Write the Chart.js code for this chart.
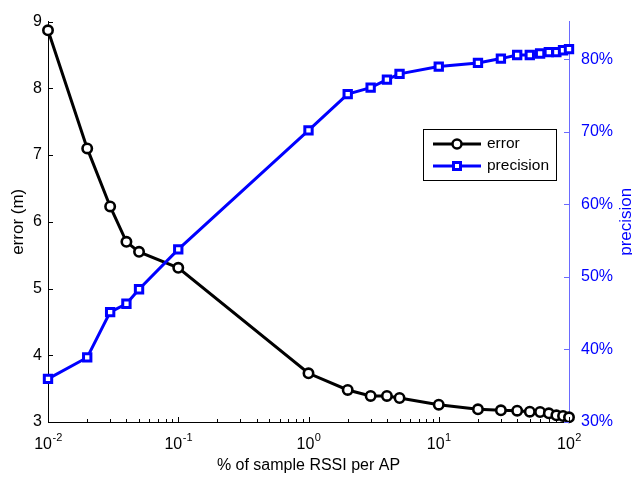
<!DOCTYPE html>
<html><head><meta charset="utf-8">
<script src="https://cdn.jsdelivr.net/npm/chart.js@4.4.1/dist/chart.umd.min.js"></script>
<style>html,body{margin:0;padding:0;background:#fff;}canvas{display:block;}</style>
</head><body>
<canvas id="c" width="632" height="482"></canvas>
<script>
// ---- data ----
const xValues = [0.01,0.02,0.03,0.04,0.05,0.1,1,2,3,4,5,10,20,30,40,50,60,70,80,90,100];
const errorValues = [8.87,7.10,6.23,5.70,5.55,5.31,3.73,3.48,3.39,3.39,3.36,3.26,3.19,3.175,3.17,3.155,3.15,3.13,3.10,3.09,3.07];
const precisionValues = [35.95,38.9,45.15,46.3,48.3,53.8,70.2,75.2,76.1,77.2,78.0,79.0,79.5,80.1,80.6,80.6,80.8,81.0,81.0,81.25,81.4];
const xMajorTicks = [0.01,0.1,1,10,100];
const xTickBase = '10';
const xTickExponents = ['-2','-1','0','1','2'];
const errorTicks = [3,4,5,6,7,8,9];
const precisionTicks = [30,40,50,60,70,80];
const seriesNames = ['error','precision'];
const xTitle = '% of sample RSSI per AP';
const yTitle = 'error (m)';
const y1Title = 'precision';

const BLUE = '#0000ff';
const AXBLUE = '#6a6aff';
const FONT = '"Liberation Sans", Arial, Helvetica, sans-serif';

const pts = (ys) => xValues.map((x,i)=>({x:x, y:ys[i]}));

const decorPlugin = {
  id:'decor',
  afterDraw(chart){
    const ctx = chart.ctx, a = chart.chartArea;
    const xs = chart.scales.x, ys = chart.scales.y, ys1 = chart.scales.y1;
    ctx.save();
    // inward ticks
    ctx.lineWidth = 1;
    ctx.strokeStyle = '#000';
    ctx.beginPath();
    errorTicks.forEach(v=>{ const p=Math.round(ys.getPixelForValue(v))+0.5; ctx.moveTo(a.left,p); ctx.lineTo(a.left+5,p); });
    xMajorTicks.forEach((v,i)=>{
      const p=Math.round(xs.getPixelForValue(v))+0.5; ctx.moveTo(p,a.bottom); ctx.lineTo(p,a.bottom-5);
      if(i<xMajorTicks.length-1){ for(let m=2;m<=9;m++){ const q=Math.round(xs.getPixelForValue(v*m))+0.5; ctx.moveTo(q,a.bottom); ctx.lineTo(q,a.bottom-3);} }
    });
    ctx.stroke();
    ctx.strokeStyle = AXBLUE;
    ctx.beginPath();
    precisionTicks.forEach(v=>{ const p=Math.round(ys1.getPixelForValue(v))+0.5; ctx.moveTo(a.right,p); ctx.lineTo(a.right-5,p); });
    ctx.stroke();
    // x tick labels with superscripts
    ctx.fillStyle = '#000';
    ctx.textBaseline = 'alphabetic';
    xMajorTicks.forEach((v,i)=>{
      const p = xs.getPixelForValue(v);
      ctx.font = '16px '+FONT;
      const wb = ctx.measureText(xTickBase).width;
      ctx.font = '11px '+FONT;
      const we = ctx.measureText(xTickExponents[i]).width;
      const x0 = p - (wb+we)/2;
      ctx.font = '16px '+FONT;
      ctx.textAlign='left';
      ctx.fillText(xTickBase, x0, 449);
      ctx.font = '11px '+FONT;
      ctx.fillText(xTickExponents[i], x0+wb+0.5, 441);
    });
    // axis titles
    ctx.font = '16px '+FONT;
    ctx.textAlign = 'center';
    ctx.textBaseline = 'middle';
    ctx.fillText(xTitle, (a.left+a.right)/2, 466);
    ctx.font = '17px '+FONT;
    ctx.save();
    ctx.translate(18, (a.top+a.bottom)/2);
    ctx.rotate(-Math.PI/2);
    ctx.fillText(yTitle, 0, 0);
    ctx.restore();
    ctx.fillStyle = BLUE;
    ctx.save();
    ctx.translate(626, (a.top+a.bottom)/2);
    ctx.rotate(-Math.PI/2);
    ctx.fillText(y1Title, 0, 0);
    ctx.restore();
    // legend
    const lx=423.5, ly=129.5, lw=133, lh=51;
    ctx.fillStyle='#fff'; ctx.fillRect(lx,ly,lw,lh);
    ctx.strokeStyle='#000'; ctx.lineWidth=1; ctx.strokeRect(lx,ly,lw,lh);
    const rows=[{y:144,c:'#000',s:'circle'},{y:166,c:BLUE,s:'rect'}];
    rows.forEach((r,i)=>{
      ctx.strokeStyle=r.c; ctx.lineWidth=3;
      ctx.beginPath(); ctx.moveTo(433,r.y); ctx.lineTo(481,r.y); ctx.stroke();
      ctx.fillStyle='#fff';
      ctx.beginPath();
      if(r.s==='circle'){ ctx.lineWidth=2.5; ctx.arc(457,r.y,4.5,0,Math.PI*2);} else { ctx.lineWidth=3; ctx.rect(453.5,r.y-3.5,7,7);} 
      ctx.fill(); ctx.stroke();
      ctx.fillStyle='#000'; ctx.font='15.5px '+FONT; ctx.textAlign='left'; ctx.textBaseline='middle';
      ctx.fillText(seriesNames[i], 487, r.y);
    });
    ctx.restore();
  }
};

new Chart(document.getElementById('c'), {
  type:'line',
  data:{ datasets:[
    { label:seriesNames[1], data:pts(precisionValues), yAxisID:'y1', borderColor:BLUE, borderWidth:3,
      pointStyle:'rect', pointRadius:5.2, pointBorderWidth:3, pointBackgroundColor:'#fff', pointBorderColor:BLUE, clip:false, tension:0 },
    { label:seriesNames[0], data:pts(errorValues), yAxisID:'y', borderColor:'#000', borderWidth:3,
      pointStyle:'circle', pointRadius:4.7, pointBorderWidth:2.6, pointBackgroundColor:'#fff', pointBorderColor:'#000', clip:false, tension:0 }
  ]},
  options:{
    responsive:false, animation:false, devicePixelRatio:1,
    layout:{padding:{top:11,left:0,right:0,bottom:0}},
    plugins:{legend:{display:false}, tooltip:{enabled:false}},
    scales:{
      x:{ type:'logarithmic', position:'bottom', min:0.01, max:100,
        afterBuildTicks:(s)=>{ s.ticks = xMajorTicks.map(v=>({value:v})); },
        afterFit:(s)=>{ s.height = 60; },
        ticks:{display:false},
        grid:{display:true, drawOnChartArea:false, drawTicks:false},
        border:{display:true, color:'#000', width:1} },
      y:{ type:'linear', position:'left', min:3, max:9,
        afterBuildTicks:(s)=>{ s.ticks = errorTicks.map(v=>({value:v})); },
        afterFit:(s)=>{ s.width = 48; },
        ticks:{padding:6, color:'#000', font:{family:FONT, size:16}, callback:(v)=>String(v)},
        grid:{display:true, drawOnChartArea:false, drawTicks:false},
        border:{display:true, color:'#000', width:1} },
      y1:{ type:'linear', position:'right', min:30, max:85.2,
        afterBuildTicks:(s)=>{ s.ticks = precisionTicks.map(v=>({value:v})); },
        afterFit:(s)=>{ s.width = 63; },
        ticks:{padding:12, color:BLUE, font:{family:FONT, size:16}, callback:(v)=>v+'%'},
        grid:{display:true, drawOnChartArea:false, drawTicks:false},
        border:{display:true, color:AXBLUE, width:1} }
    }
  },
  plugins:[decorPlugin]
});
</script>
</body></html>
